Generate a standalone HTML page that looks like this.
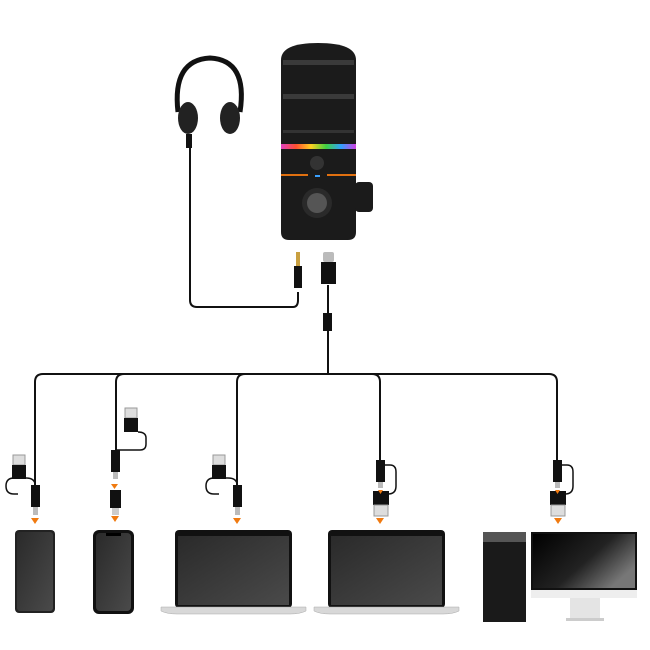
<!DOCTYPE html>
<html><head><style>body{margin:0;background:#fff}svg{display:block}</style></head><body>
<svg width="650" height="650" viewBox="0 0 650 650" xmlns="http://www.w3.org/2000/svg">
<defs>
<linearGradient id="rgb" x1="0" x2="1"><stop offset="0" stop-color="#e040c0"/><stop offset=".2" stop-color="#ff5030"/><stop offset=".4" stop-color="#ffd020"/><stop offset=".6" stop-color="#40d040"/><stop offset=".8" stop-color="#30a0ff"/><stop offset="1" stop-color="#d040e0"/></linearGradient>
<linearGradient id="scr" x1="0" y1="0" x2="1" y2="1"><stop offset="0" stop-color="#2a2a2a"/><stop offset="1" stop-color="#4a4a4a"/></linearGradient>
<linearGradient id="mon" x1="0" y1="0" x2="1" y2="0.6"><stop offset="0" stop-color="#000"/><stop offset=".6" stop-color="#222"/><stop offset="1" stop-color="#777"/></linearGradient>
</defs>
<g fill="none" stroke="#111" stroke-width="2">
<path d="M190 148 V300 Q190 307 197 307 H293 Q298 307 298 300 V292"/>
<path d="M328 285 V374"/>
<path d="M43 374 H549 Q557 374 557 382 V460"/>
<path d="M43 374 Q35 374 35 382 V485"/>
<path d="M116 382 Q116 374 124 374"/><path d="M116 382 V450"/>
<path d="M237 382 Q237 374 245 374"/><path d="M237 382 V485"/>
<path d="M372 374 Q380 374 380 382 V460"/>
<path d="M35 485 Q35 478 26 478 H14 Q6 478 6 486 Q6 494 14 494 H18" stroke-width="1.5"/>
<path d="M237 485 Q237 478 228 478 H214 Q206 478 206 486 Q206 494 214 494 H219" stroke-width="1.5"/>
<path d="M116 450 H140 Q146 450 146 444 V438 Q146 432 138 432" stroke-width="1.5"/>
<path d="M384 465 H390 Q396 465 396 472 V486 Q396 494 388 494" stroke-width="1.5"/>
<path d="M561 465 H567 Q573 465 573 472 V486 Q573 494 565 494" stroke-width="1.5"/>
</g>
<path d="M178 112 Q172 60 210 58 Q248 60 240 112" fill="none" stroke="#111" stroke-width="5"/>
<ellipse cx="188" cy="118" rx="10" ry="16" fill="#222"/><ellipse cx="230" cy="118" rx="10" ry="16" fill="#222"/>
<rect x="186" y="134" width="6" height="14" fill="#111"/>
<path d="M281 60 Q281 43 318 43 Q356 43 356 60 V232 Q356 240 348 240 H289 Q281 240 281 232Z" fill="#1b1b1b"/>
<rect x="283" y="60" width="71" height="5" fill="#3a3a3a"/><rect x="283" y="94" width="71" height="5" fill="#3a3a3a"/><rect x="283" y="130" width="71" height="3" fill="#333"/>
<rect x="281" y="144" width="75" height="5" fill="url(#rgb)"/>
<rect x="281" y="174" width="27" height="2" fill="#e07010"/><rect x="327" y="174" width="29" height="2" fill="#e07010"/>
<rect x="315" y="175" width="5" height="2" fill="#3aa0ff"/>
<circle cx="317" cy="163" r="7" fill="#333"/>
<circle cx="317" cy="203" r="15" fill="#2a2a2a"/><circle cx="317" cy="203" r="10" fill="#555"/>
<rect x="355" y="182" width="18" height="30" rx="4" fill="#1b1b1b"/>
<rect x="296" y="252" width="4" height="14" fill="#c9a040"/><rect x="294" y="266" width="8" height="22" fill="#111"/>
<rect x="323" y="252" width="11" height="10" rx="2" fill="#bbb"/><rect x="321" y="262" width="15" height="22" fill="#111"/>
<rect x="323" y="313" width="9" height="18" fill="#111"/>
<rect x="13" y="455" width="12" height="10" fill="#ddd" stroke="#999"/><rect x="12" y="465" width="14" height="14" fill="#111"/>
<rect x="31" y="485" width="9" height="22" fill="#111"/><rect x="33" y="507" width="5" height="8" fill="#bbb"/>
<rect x="125" y="408" width="12" height="10" fill="#ddd" stroke="#999"/><rect x="124" y="418" width="14" height="14" fill="#111"/>
<rect x="111" y="450" width="9" height="22" fill="#111"/><rect x="113" y="472" width="5" height="7" fill="#bbb"/>
<rect x="110" y="490" width="11" height="18" fill="#111"/><rect x="112" y="508" width="7" height="7" fill="#ccc"/>
<rect x="213" y="455" width="12" height="10" fill="#ddd" stroke="#999"/><rect x="212" y="465" width="14" height="14" fill="#111"/>
<rect x="233" y="485" width="9" height="22" fill="#111"/><rect x="235" y="507" width="5" height="8" fill="#bbb"/>
<rect x="376" y="460" width="9" height="22" fill="#111"/><rect x="378" y="482" width="5" height="6" fill="#bbb"/>
<rect x="373" y="491" width="16" height="14" fill="#111"/><rect x="374" y="505" width="14" height="11" fill="#ddd" stroke="#999"/>
<rect x="553" y="460" width="9" height="22" fill="#111"/><rect x="555" y="482" width="5" height="6" fill="#bbb"/>
<rect x="550" y="491" width="16" height="14" fill="#111"/><rect x="551" y="505" width="14" height="11" fill="#ddd" stroke="#999"/>
<g fill="#f07a10">
<path d="M31 518 h8 l-4 6z"/><path d="M111 516 h8 l-4 6z"/><path d="M233 518 h8 l-4 6z"/><path d="M376 518 h8 l-4 6z"/><path d="M554 518 h8 l-4 6z"/>
<path d="M111 484 h7 l-3.5 5z"/><path d="M378 490 h5 l-2.5 4z"/><path d="M555 490 h5 l-2.5 4z"/>
</g>
<rect x="15" y="530" width="40" height="83" rx="4" fill="#222"/><rect x="17" y="532" width="36" height="79" rx="3" fill="url(#scr)"/>
<rect x="93" y="530" width="41" height="84" rx="6" fill="#111"/><rect x="96" y="533" width="35" height="78" rx="4" fill="url(#scr)"/><rect x="106" y="533" width="15" height="3" fill="#000"/>
<rect x="175" y="530" width="117" height="78" rx="4" fill="#111"/><rect x="178" y="536" width="111" height="69" fill="url(#scr)"/>
<path d="M161 607 H306 V611 Q300 614 290 614 H177 Q167 614 161 611Z" fill="#d8d8d8" stroke="#aaa" stroke-width=".5"/>
<rect x="328" y="530" width="117" height="78" rx="4" fill="#111"/><rect x="331" y="536" width="111" height="69" fill="url(#scr)"/>
<path d="M314 607 H459 V611 Q453 614 443 614 H330 Q320 614 314 611Z" fill="#d8d8d8" stroke="#aaa" stroke-width=".5"/>
<rect x="483" y="532" width="43" height="90" fill="#1a1a1a"/><rect x="483" y="532" width="43" height="10" fill="#555"/>
<rect x="531" y="532" width="106" height="58" fill="#111"/><rect x="533" y="534" width="102" height="54" fill="url(#mon)"/>
<rect x="531" y="590" width="106" height="8" fill="#eee"/><rect x="570" y="598" width="30" height="20" fill="#e4e4e4"/><rect x="566" y="618" width="38" height="3" fill="#ccc"/>
</svg>
</body></html>
